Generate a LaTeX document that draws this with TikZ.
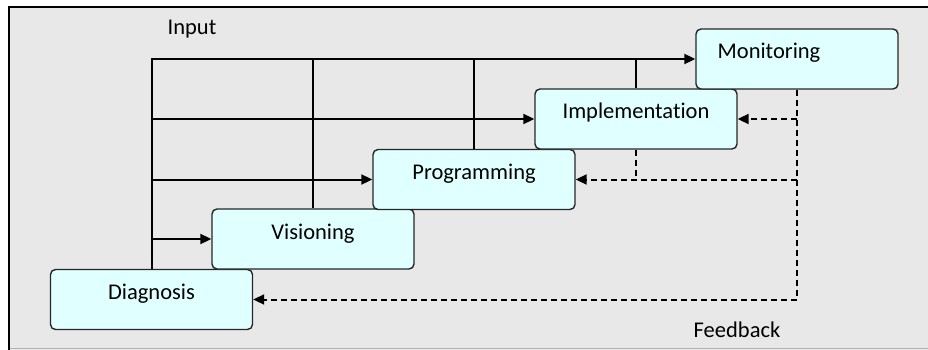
\documentclass[tikz,border=0pt]{standalone}
\usepackage{fontspec}
\setmainfont[Ligatures=NoCommon]{Carlito}
\usetikzlibrary{arrows.meta}

\definecolor{panelgray}{HTML}{E8E8E8}
\definecolor{boxcyan}{HTML}{E0FFFF}

\begin{document}
\begin{tikzpicture}[x=1pt,y=-1pt,
  stage/.style={rectangle, rounded corners=5pt, draw=black!85, line width=1.4pt,
    fill=boxcyan, minimum width=202pt, minimum height=60pt,
    text height=14pt, text depth=14pt, font=\fontsize{22.5}{26}\selectfont},
  flow/.style={line width=2pt, -{Triangle[length=11pt,width=10pt]}},
  feed/.style={line width=2pt, dash pattern=on 6pt off 4pt, -{Triangle[length=11pt,width=10pt]}},
  tag/.style={font=\fontsize{22.5}{26}\selectfont}]
\useasboundingbox (0,0) rectangle (928,350);
\fill[panelgray] (9,7) rectangle (928,350);
\draw[black!30, line width=1.5pt] (9,348.5) -- (928,348.5);
\draw[line width=2.4pt] (9,350) -- (9,7) -- (928,7);

\node[stage](diag) at (151.5,299.5){Diagnosis};
\node[stage](vis) at (313,239){Visioning};
\node[stage](prog) at (474,179.5){Programming};
\node[stage](impl) at (636,119){Implementation};
\node[stage](mon) at (797,59){Monitoring\hspace*{56pt}};

\node[tag](input) at (192,29){Input};
\node[tag](feedback) at (737,330){Feedback};

% input lines
\draw[flow] (diag.north) |- (mon.west);
\foreach \n in {vis,prog,impl}
 \draw[line width=2pt] (\n.north) -- (\n.north |- mon.west);
\foreach \n in {vis,prog,impl}
 \draw[flow] (diag.north |- \n.west) -- (\n.west);

% feedback lines
\draw[feed] (mon.south) |- (diag.east);
\foreach \n in {impl,prog}
 \draw[feed] (mon.south |- \n.east) -- (\n.east);
\draw[feed, -] (impl.south) -- (impl.south |- prog.east);
\end{tikzpicture}
\end{document}
